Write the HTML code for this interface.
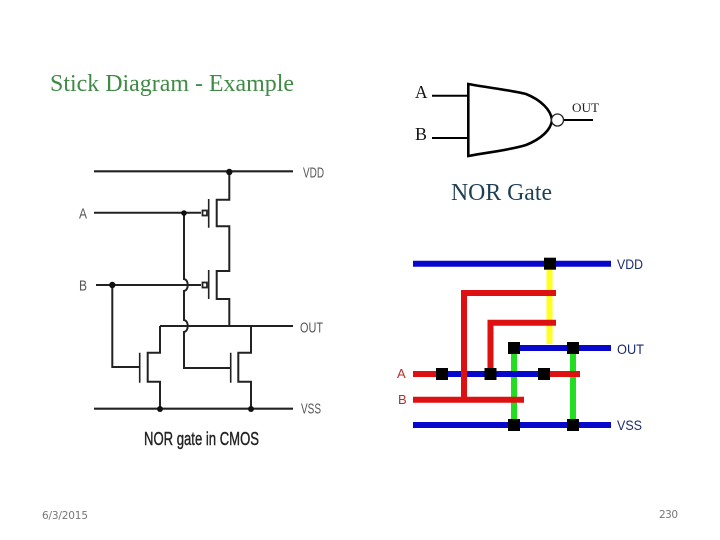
<!DOCTYPE html>
<html><head><meta charset="utf-8"><style>
html,body{margin:0;padding:0;background:#fff;width:720px;height:540px;overflow:hidden}
svg{display:block}
</style></head><body>
<svg width="720" height="540" viewBox="0 0 720 540" xmlns="http://www.w3.org/2000/svg">
<rect width="720" height="540" fill="#fff"/>
<g font-family="'Liberation Serif',serif">
<text x="50" y="91" font-size="24" fill="#3f8a45" textLength="244" lengthAdjust="spacingAndGlyphs">Stick Diagram - Example</text>
<text x="415" y="98" font-size="18" fill="#111" textLength="12.5" lengthAdjust="spacingAndGlyphs">A</text>
<text x="415" y="140" font-size="18" fill="#111" textLength="12" lengthAdjust="spacingAndGlyphs">B</text>
<text x="572" y="112" font-size="13" fill="#222" textLength="27" lengthAdjust="spacingAndGlyphs">OUT</text>
<text x="451" y="200" font-size="24" fill="#1f3f55" textLength="101" lengthAdjust="spacingAndGlyphs">NOR Gate</text>
</g>
<g fill="none" stroke="#000" stroke-width="2">
<path d="M432 95.7H468M432 138H468M563 120H593"/>
<path d="M468.3 84V156C490 152 510 150 526 145C541 139 551 130 552 120C551 110 541 100 526 94C510 90 490 88 468.3 84Z" stroke-width="2.6"/>
<circle cx="557.5" cy="120" r="6" stroke-width="1.3" stroke="#222" fill="#fff"/>
</g>
<g fill="none" stroke="#222" stroke-width="2">
<path d="M94 171.3H293M94 408.7H293" stroke-width="2.2"/>
<path d="M229.3 171V199.7H216.7V226.3H229.3V271H216.7V299H229.3V326"/>
<path d="M208.7 199V227.7M208.7 270V299M139.7 352.7V382.7M230.7 352.7V382.7" stroke-width="1.6"/>
<path d="M94 212.7H201M96 285H201"/>
<path d="M184 213V279C189 280 189 290 184 291V320C189 321 189 331 184 332V368H230.7"/>
<path d="M112.3 285V367H139.7"/>
<path d="M160 326H293"/>
<path d="M160 326V352.7H147.7V381.7H160V408.7"/>
<path d="M251 326V352.7H238.3V381.7H251V408.7"/>
<rect x="202.5" y="210.5" width="4.5" height="5" fill="#fff" stroke-width="1.8"/>
<rect x="202.5" y="282.5" width="4.5" height="5" fill="#fff" stroke-width="1.8"/>
</g>
<g fill="#111">
<circle cx="229.3" cy="172" r="3.2"/><circle cx="184" cy="213" r="2.8"/><circle cx="112.3" cy="285" r="3.2"/>
<circle cx="160" cy="409" r="3"/><circle cx="251" cy="409" r="3"/>
</g>
<g font-family="'Liberation Sans',sans-serif" fill="#555" font-size="15">
<text x="303" y="177.5" textLength="21" lengthAdjust="spacingAndGlyphs">VDD</text>
<text x="79" y="218.5" textLength="8" lengthAdjust="spacingAndGlyphs">A</text>
<text x="79" y="290.5" textLength="8" lengthAdjust="spacingAndGlyphs">B</text>
<text x="300" y="332.5" textLength="23" lengthAdjust="spacingAndGlyphs">OUT</text>
<text x="301" y="413.5" textLength="20" lengthAdjust="spacingAndGlyphs">VSS</text>
<text x="144" y="445" font-size="18" fill="#222" stroke="#222" stroke-width="0.4" textLength="115" lengthAdjust="spacingAndGlyphs">NOR gate in CMOS</text>
</g>
<g fill="none" stroke-width="6">
<path d="M549.5 270V344" stroke="#ffff22"/>
<path d="M514 351V425M573 351V425" stroke="#22dd22"/>
<path d="M413 263.7H611M514 348H611M413 425H611M442 374H544" stroke="#0808cc"/>
<path d="M556 293H464V400M556 322.7H490.5V374M413 374H442M544 374H580M413 399.7H524" stroke="#dd1111"/>
</g>
<g fill="#000">
<rect x="544" y="257.7" width="12" height="12"/>
<rect x="508" y="342" width="12" height="12"/><rect x="567" y="342" width="12" height="12"/>
<rect x="436" y="368" width="12" height="12"/><rect x="484.5" y="368" width="12" height="12"/><rect x="538" y="368" width="12" height="12"/>
<rect x="508" y="419" width="12" height="12"/><rect x="567" y="419" width="12" height="12"/>
</g>
<g font-family="'Liberation Sans',sans-serif" font-size="14">
<text x="617" y="269" fill="#1a2a6c" textLength="26" lengthAdjust="spacingAndGlyphs">VDD</text>
<text x="617" y="354" fill="#1a2a6c" textLength="27" lengthAdjust="spacingAndGlyphs">OUT</text>
<text x="617" y="430" fill="#1a2a6c" textLength="25" lengthAdjust="spacingAndGlyphs">VSS</text>
<text x="397" y="378" fill="#b03030" font-size="13" textLength="10">A</text>
<text x="398" y="404" fill="#b03030" font-size="13" textLength="10">B</text>
</g>
<g font-family="'DejaVu Sans',sans-serif" font-size="10.5" fill="#777">
<text x="42" y="519" textLength="46">6/3/2015</text>
<text x="659" y="518" textLength="19">230</text>
</g>
</svg>
</body></html>
